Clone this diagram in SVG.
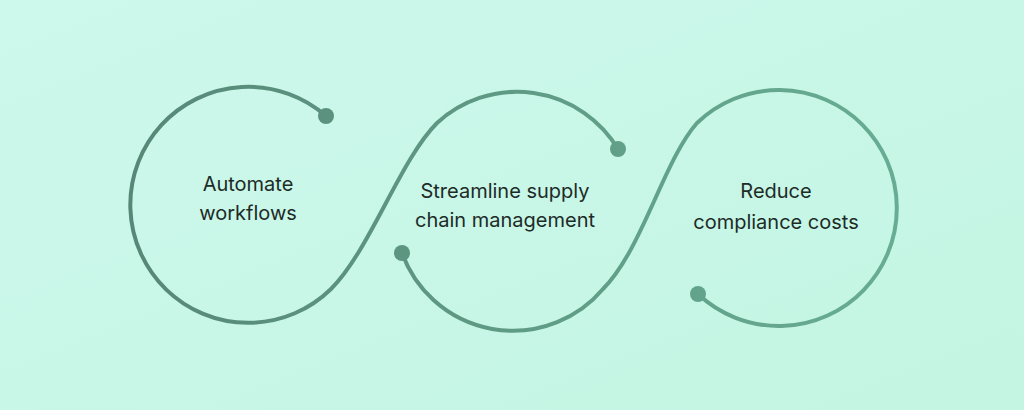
<svg xmlns="http://www.w3.org/2000/svg" width="1024" height="410" viewBox="0 0 1024 410">
<defs>
<linearGradient id="bg" x1="0" y1="0" x2="1" y2="1"><stop offset="0" stop-color="#cdf8ec"/><stop offset="1" stop-color="#c3f5e2"/></linearGradient>
<linearGradient id="ln" gradientUnits="userSpaceOnUse" x1="130" y1="0" x2="900" y2="0"><stop offset="0" stop-color="#578877"/><stop offset="1" stop-color="#67ad93"/></linearGradient>
<style>
.c{fill:none;stroke:url(#ln);stroke-width:4;stroke-linecap:round}
.d{fill:url(#ln)}
.t{font-family:Inter,"Liberation Sans",sans-serif;font-size:20px;fill:#1d2b27;text-anchor:middle}
</style>
</defs>
<rect width="1024" height="410" fill="url(#bg)"/>
<g id="connectors">
<path class="c" d="M326,116 A118,118 0 1 0 331,289 C370,250 400,160 437,123 A118,118 0 0 1 618,149"/>
<path class="c" d="M402,253 A118,118 0 0 0 603,289 C642,250 664,160 697,123 A118,118 0 1 1 698,294"/>
<circle class="d" cx="326" cy="116" r="8"/>
<circle class="d" cx="618" cy="149" r="8"/>
<circle class="d" cx="402" cy="253" r="8"/>
<circle class="d" cx="698" cy="294" r="8"/>
</g>
<g id="n1"><text class="t" x="248" y="191">Automate</text><text class="t" x="248" y="220">workflows</text></g>
<g id="n2"><text class="t" x="505" y="198">Streamline supply</text><text class="t" x="505" y="227">chain management</text></g>
<g id="n3"><text class="t" x="776" y="198">Reduce</text><text class="t" x="776" y="229">compliance costs</text></g>
</svg>
